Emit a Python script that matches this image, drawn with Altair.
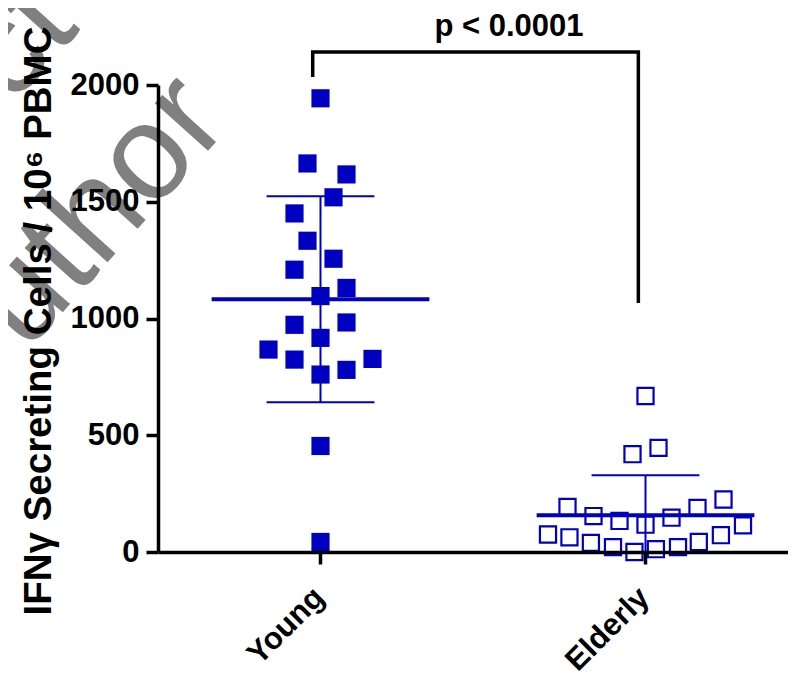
import altair as alt
import pandas as pd

# ---------------- data ----------------
groups = ["Young", "Elderly"]

young_values = [1943, 1664, 1617, 1519, 1450, 1333, 1256, 1209, 1131, 1096,
                973, 983, 917, 867, 824, 827, 780, 760, 454, 43]
# beeswarm column of each point (in marker half-widths, as laid out in the picture)
young_slots = [0, -1, 2, 1, -2, -1, 1, -2, 2, 0,
               -2, 2, 0, -4, -2, 4, 2, 0, 0, 0]

elderly_values = [668, 419, 446, 193, 154, 133, 117, 147, 189, 225,
                  114, 75, 63, 39, 21, 0, 12, 21, 43, 72]
elderly_slots = [0, -1, 1, -6, -4, -2, 0, 2, 4, 6,
                 7.5, -7.5, -5.85, -4.2, -2.5, -0.85, 0.8, 2.5, 4.1, 5.8]

y_ticks = [0, 500, 1000, 1500, 2000]
y_title = "IFNγ Secreting Cells / 10⁶ PBMC"

p_label = ["p < 0.0001"]
p_pos_x = [1.58]
p_pos_y = [2210]
bracket_x = [0.976, 0.976, 1.978, 1.978]
bracket_y = [2034, 2141, 2141, 1066]

watermark_text = ["ct", "uthor"]

# ---------------- styling ----------------
BLUE = "#0000C0"
FONT = "Liberation Sans"
W, H = 630, 467
X_DOMAIN = [0.5, 0.5 + W / 325.0]
SLOT = 13 / 325.0

rows = []
for gi, (g, vals, slots) in enumerate(
        [("Young", young_values, young_slots), ("Elderly", elderly_values, elderly_slots)], start=1):
    for v, s in zip(vals, slots):
        rows.append({"group": g, "gi": gi, "value": v, "slot": s})
df = pd.DataFrame(rows)

label_expr = " : ".join(
    [f"datum.value == {i + 1} ? '{g}'" for i, g in enumerate(groups[:-1])] + [f"'{groups[-1]}'"])

xscale = alt.Scale(domain=X_DOMAIN, nice=False, zero=False)
yscale = alt.Scale(domain=[0, 2000], nice=False, zero=True)
xaxis = alt.Axis(values=[1, 2], labelExpr=label_expr, title=None, labelAngle=315,
                 labelAlign="right", labelBaseline="top", labelPadding=18,
                 labelOffset=-12, tickSize=12, grid=False, zindex=2)
yaxis = alt.Axis(values=y_ticks, format="d", title=y_title, titleX=-108, titleY=H / 2 + 2,
                 titleAngle=270, titleAlign="center", titleBaseline="alphabetic",
                 tickSize=12, labelPadding=7, grid=False, zindex=2)


def X(field):
    return alt.X(field, scale=xscale, axis=xaxis)


def Y(field):
    return alt.Y(field, scale=yscale, axis=yaxis)


pts = alt.Chart(df).transform_calculate(xpos=f"datum.gi + datum.slot * {SLOT}")

young_pts = pts.transform_filter("datum.gi == 1").mark_point(
    shape="square", filled=True, size=330, color=BLUE, opacity=1
).encode(x=X("xpos:Q"), y=Y("value:Q"))

elderly_pts = pts.transform_filter("datum.gi == 2").mark_point(
    shape="square", filled=False, size=260, color=BLUE, strokeWidth=2.2, opacity=1
).encode(x=X("xpos:Q"), y=Y("value:Q"))

stats = alt.Chart(df).transform_aggregate(
    mean="mean(value)", sd="stdev(value)", groupby=["gi"]
).transform_calculate(
    lo="datum.mean - datum.sd", hi="datum.mean + datum.sd",
    ml="datum.gi - 0.335", mr="datum.gi + 0.335",
    cl="datum.gi - 0.166", cr="datum.gi + 0.166",
)

mean_line = stats.mark_rule(color=BLUE, strokeWidth=4).encode(
    x=X("ml:Q"), x2="mr:Q", y=Y("mean:Q"))
sd_line = stats.mark_rule(color=BLUE, strokeWidth=2, clip=True).encode(
    x=X("gi:Q"), y=Y("lo:Q"), y2="hi:Q")
cap_hi = stats.mark_rule(color=BLUE, strokeWidth=2, clip=True).encode(
    x=X("cl:Q"), x2="cr:Q", y=Y("hi:Q"))
cap_lo = stats.mark_rule(color=BLUE, strokeWidth=2, clip=True).encode(
    x=X("cl:Q"), x2="cr:Q", y=Y("lo:Q"))

bracket_df = pd.DataFrame({"bx": bracket_x, "by": bracket_y, "k": list(range(len(bracket_x)))})
bracket = alt.Chart(bracket_df).mark_line(color="black", strokeWidth=3.5, strokeCap="butt").encode(
    x=X("bx:Q"), y=Y("by:Q"), order="k:Q")

ptext_df = pd.DataFrame({"px": p_pos_x, "py": p_pos_y, "t": p_label})
ptext = alt.Chart(ptext_df).mark_text(
    font=FONT, fontWeight="bold", fontSize=31, color="black",
    align="center", baseline="alphabetic"
).encode(x=X("px:Q"), y=Y("py:Q"), text="t:N")

wm1 = alt.Chart(pd.DataFrame({"t": [watermark_text[0]]})).mark_text(
    font=FONT, fontSize=135, color="#808080", angle=312, align="left", baseline="alphabetic"
).encode(x=alt.value(-147), y=alt.value(22), text="t:N")
wm2 = alt.Chart(pd.DataFrame({"t": [watermark_text[1]]})).mark_text(
    font=FONT, fontSize=135, color="#808080", angle=312, align="left", baseline="alphabetic"
).encode(x=alt.value(-132), y=alt.value(268), text="t:N")

chart = alt.layer(
    wm1, wm2, mean_line, sd_line, cap_hi, cap_lo, young_pts, elderly_pts, bracket, ptext
).properties(
    width=W, height=H,
    background="white",
    autosize=alt.AutoSizeParams(type="none"),
    padding={"left": 150, "top": 77, "right": 0, "bottom": 120},
).configure_view(strokeWidth=0, stroke="transparent").configure_axis(
    labelFont=FONT, labelFontWeight="bold", labelFontSize=31, labelColor="black",
    titleFont=FONT, titleFontWeight="bold", titleFontSize=38.5, titleColor="black",
    domainColor="black", domainWidth=3.5, tickColor="black", tickWidth=3.5,
    labelOverlap=False, labelFlush=False
)

chart.save("out.html", embed_options={"renderer": "svg", "actions": False})
